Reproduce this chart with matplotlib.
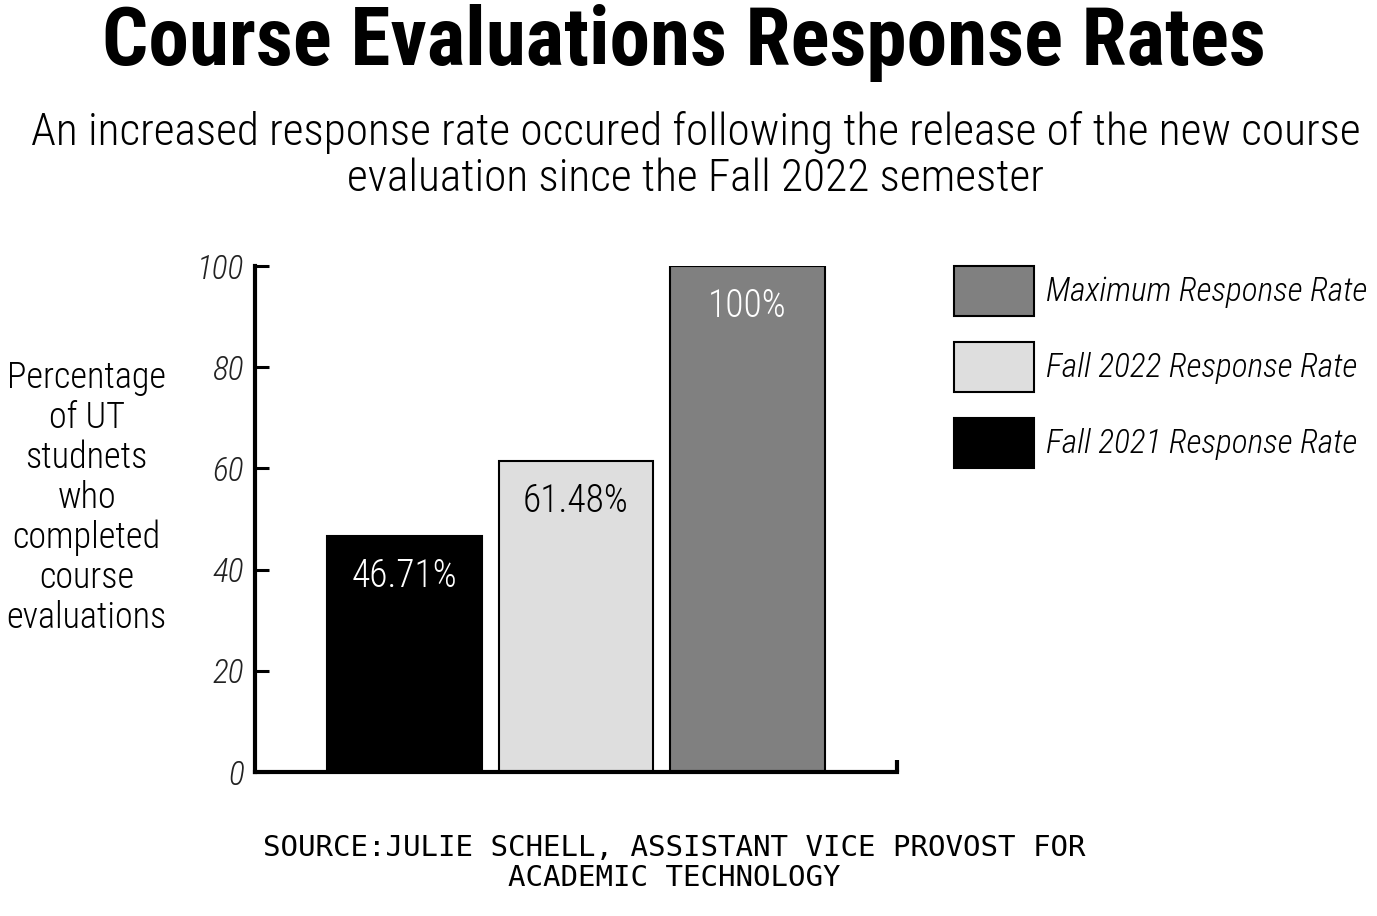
import matplotlib.pyplot as plt
from matplotlib.patches import Patch

plt.rcParams['font.family'] = ['Roboto Condensed', 'Archivo Narrow', 'DejaVu Sans']

# data
semesters = ['Fall 2021 Response Rate', 'Fall 2022 Response Rate', 'Maximum Response Rate']
rates = [46.71, 61.48, 100]
rate_labels = ['46.71%', '61.48%', '100%']
bar_colors = ['#000000', '#dedede', '#808080']
text_colors = ['white', 'black', 'white']
yticks = [0, 20, 40, 60, 80, 100]

fig = plt.figure(figsize=(13.77, 9.16), dpi=100)
ax = fig.add_axes([0.1852, 0.1572, 0.4662, 0.5524])

xpos = list(range(len(rates)))
ax.bar(xpos, rates, width=0.9, color=bar_colors, edgecolor='black', linewidth=1.5, zorder=2)
for x, v, lab, tc in zip(xpos, rates, rate_labels, text_colors):
    ax.annotate(lab, (x, v), xytext=(0, -29), textcoords='offset points',
                ha='center', va='center', color=tc, fontsize=27, fontweight='light')

ax.set_xlim(-0.872, 2.872)
ax.set_ylim(0, 100)
ax.set_xticks([])
ax.set_yticks(yticks)
ax.set_yticklabels([str(t) for t in yticks], fontstyle='italic', fontsize=24,
                   fontweight='light', color='#222222')
ax.tick_params(axis='y', direction='in', length=10, width=2.2, pad=8)
for s in ['top', 'right']:
    ax.spines[s].set_visible(False)
ax.spines['left'].set_linewidth(3)
ax.spines['bottom'].set_linewidth(3)
# little end tick at right of x axis
ax.plot([2.872, 2.872], [0, 2.4], color='black', lw=3, clip_on=False, solid_capstyle='butt')

# y label
fig.text(0.063, 0.4565, 'Percentage\nof UT\nstudnets\nwho\ncompleted\ncourse\nevaluations',
         ha='center', va='center', fontsize=26, fontweight='light', linespacing=1.137)

# legend
handles = [Patch(facecolor=bar_colors[i], edgecolor='black', linewidth=1.5) for i in [2, 1, 0]]
labels = [semesters[i] for i in [2, 1, 0]]
leg = fig.legend(handles, labels, loc='upper left', bbox_to_anchor=(0.693, 0.71),
                 frameon=False, fontsize=24, handlelength=2.4, handleheight=1.93,
                 labelspacing=0.78, handletextpad=0.35, borderpad=0, borderaxespad=0)
for t in leg.get_texts():
    t.set_fontstyle('italic')
    t.set_fontweight('light')

# titles
fig.text(0.4965, 0.953, 'Course Evaluations Response Rates', ha='center', va='center',
         fontsize=58.5, fontweight='bold')
fig.text(0.505, 0.83, 'An increased response rate occured following the release of the new course\n'
         'evaluation since the Fall 2022 semester', ha='center', va='center',
         fontsize=32.7, fontweight='light', linespacing=1.12)

# source
fig.text(0.490, 0.058, 'SOURCE:JULIE SCHELL, ASSISTANT VICE PROVOST FOR\nACADEMIC TECHNOLOGY',
         ha='center', va='center', fontsize=21, family='DejaVu Sans Mono', linespacing=1.08)

fig.savefig('out.png', dpi=100)
